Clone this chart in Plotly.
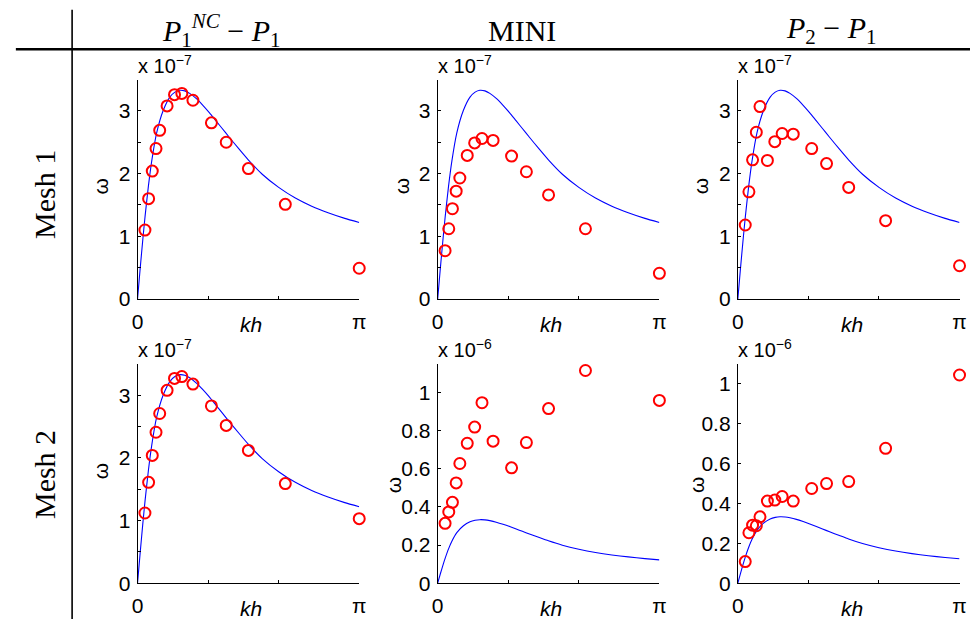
import math
import plotly.graph_objects as go

# Wavenumbers (kh) at which the discrete modes were computed
kh = [0.105, 0.157, 0.209, 0.262, 0.314, 0.419, 0.524, 0.628, 0.785,
      1.047, 1.257, 1.571, 2.094, 3.1415]

# Reference dispersion curve (omega)
exact_kh = [0, 0.037, 0.075, 0.108, 0.154, 0.201, 0.271, 0.365, 0.458,
            0.53, 0.598, 0.67, 0.739, 0.83, 0.926, 1.02, 1.113, 1.20, 1.30,
            1.44, 1.569, 1.767, 2.0, 2.236, 2.468, 2.70, 2.937, 3.1415]
exact_w = [0, 0.48e-7, 0.95e-7, 1.33e-7, 1.80e-7, 2.20e-7, 2.65e-7, 3.01e-7,
           3.22e-7, 3.30e-7, 3.33e-7, 3.32e-7, 3.28e-7, 3.20e-7, 3.09e-7,
           2.97e-7, 2.84e-7, 2.72e-7, 2.58e-7, 2.39e-7, 2.22e-7, 1.99e-7,
           1.78e-7, 1.61e-7, 1.48e-7, 1.376e-7, 1.286e-7, 1.221e-7]

# Discrete omega, mesh 1
mesh1_p1nc = [1.10e-7, 1.60e-7, 2.04e-7, 2.40e-7, 2.69e-7, 3.08e-7, 3.26e-7,
              3.28e-7, 3.17e-7, 2.81e-7, 2.50e-7, 2.08e-7, 1.51e-7, 0.49e-7]
mesh1_mini = [0.77e-7, 1.12e-7, 1.44e-7, 1.72e-7, 1.93e-7, 2.29e-7, 2.49e-7,
              2.56e-7, 2.53e-7, 2.28e-7, 2.03e-7, 1.66e-7, 1.12e-7, 0.41e-7]
mesh1_p2p1 = [1.18e-7, 1.71e-7, 2.22e-7, 2.66e-7, 3.07e-7, 2.21e-7, 2.51e-7,
              2.64e-7, 2.63e-7, 2.40e-7, 2.16e-7, 1.78e-7, 1.25e-7, 0.53e-7]

# Discrete omega, mesh 2
mesh2_p1nc = [1.12e-7, 1.61e-7, 2.04e-7, 2.41e-7, 2.71e-7, 3.08e-7, 3.27e-7,
              3.30e-7, 3.18e-7, 2.83e-7, 2.52e-7, 2.12e-7, 1.59e-7, 1.03e-7]
mesh2_mini = [0.314e-6, 0.374e-6, 0.424e-6, 0.526e-6, 0.628e-6, 0.734e-6,
              0.819e-6, 0.947e-6, 0.745e-6, 0.605e-6, 0.738e-6, 0.916e-6,
              1.116e-6, 0.959e-6]
mesh2_p2p1 = [0.108e-6, 0.253e-6, 0.291e-6, 0.288e-6, 0.333e-6, 0.412e-6,
              0.417e-6, 0.435e-6, 0.412e-6, 0.475e-6, 0.500e-6, 0.510e-6,
              0.677e-6, 1.045e-6]

col_titles = ["<i>P</i><sub>1</sub><sup><i>NC</i></sup> − <i>P</i><sub>1</sub>",
              "MINI",
              "<i>P</i><sub>2</sub> − <i>P</i><sub>1</sub>"]
row_titles = ["Mesh 1", "Mesh 2"]

x_tickvals = [0, 1, 2, math.pi]
x_ticktext = ["0", "", "", "π"]

W, H = 977, 630
col_left = [133.3, 437.5, 741.7]
col_width = 224.7
row_top = [81.0, 370.5]
row_bottom = [304.3, 593.5]

# per panel: data, exponent, y max (in scaled units), ticks
panels = [
    (0, 0, mesh1_p1nc, -7, 3.5, [0, 0.5, 1, 1.5, 2, 2.5, 3], ["0", "", "1", "", "2", "", "3"]),
    (0, 1, mesh1_mini, -7, 3.5, [0, 0.5, 1, 1.5, 2, 2.5, 3], ["0", "", "1", "", "2", "", "3"]),
    (0, 2, mesh1_p2p1, -7, 3.5, [0, 0.5, 1, 1.5, 2, 2.5, 3], ["0", "", "1", "", "2", "", "3"]),
    (1, 0, mesh2_p1nc, -7, 3.5, [0, 0.5, 1, 1.5, 2, 2.5, 3], ["0", "", "1", "", "2", "", "3"]),
    (1, 1, mesh2_mini, -6, 1.15, [0, 0.2, 0.4, 0.6, 0.8, 1.0], ["0", "0.2", "0.4", "0.6", "0.8", "1"]),
    (1, 2, mesh2_p2p1, -6, 1.10, [0, 0.2, 0.4, 0.6, 0.8, 1.0], ["0", "0.2", "0.4", "0.6", "0.8", "1"]),
]

omega_label_pos = {(0, 0): (96, 190), (0, 1): (401, 190), (0, 2): (704, 190),
                   (1, 0): (96, 480), (1, 1): (393, 494), (1, 2): (700, 494)}

tick_font = dict(family="Liberation Sans, Arial, sans-serif", size=21, color="black")
serif = "Liberation Serif, Times New Roman, serif"

fig = go.Figure()
layout = dict(width=W, height=H, margin=dict(l=0, r=0, t=0, b=0),
              paper_bgcolor="white", plot_bgcolor="white", showlegend=False)
annotations = []
shapes = []

for i, (r, c, data, ex, ymax, yt, ytt) in enumerate(panels, start=1):
    xa = "x" if i == 1 else f"x{i}"
    ya = "y" if i == 1 else f"y{i}"
    scale = 10.0 ** ex
    fig.add_trace(go.Scatter(x=exact_kh, y=[v / scale for v in exact_w],
                             mode="lines",
                             line=dict(color="#0000FF", width=1.1, shape="spline", smoothing=0.5),
                             xaxis=xa, yaxis=ya, cliponaxis=False))
    fig.add_trace(go.Scatter(x=kh, y=[v / scale for v in data], mode="markers",
                             marker=dict(symbol="circle-open", size=11, color="#FF0000",
                                         line=dict(width=2, color="#FF0000")),
                             xaxis=xa, yaxis=ya, cliponaxis=False))
    x0 = col_left[c] / W
    x1 = (col_left[c] + col_width) / W
    y0 = 1 - row_bottom[r] / H
    y1 = 1 - row_top[r] / H
    kx = "xaxis" if i == 1 else f"xaxis{i}"
    ky = "yaxis" if i == 1 else f"yaxis{i}"
    layout[kx] = dict(domain=[x0, x1], anchor=ya, range=[0, math.pi],
                      tickvals=x_tickvals, ticktext=x_ticktext, ticks="inside",
                      ticklen=3, tickcolor="black", showline=True, linecolor="black",
                      linewidth=1, showgrid=False, zeroline=False, tickfont=tick_font,
                      ticklabelstandoff=4)
    layout[ky] = dict(domain=[y0, y1], anchor=xa, range=[0, ymax],
                      tickvals=yt, ticktext=ytt, ticks="inside", ticklen=3,
                      tickcolor="black", showline=True, linecolor="black",
                      linewidth=1, showgrid=False, zeroline=False, tickfont=tick_font,
                      ticklabelstandoff=2)
    # exponent label above the axis
    annotations.append(dict(x=(col_left[c] - 2) / W, y=1 - (row_top[r] - 1) / H,
                            xref="paper", yref="paper", xanchor="left", yanchor="bottom",
                            text=f"x 10<sup>−{-ex}</sup>", showarrow=False,
                            font=dict(family=tick_font["family"], size=20, color="black")))
    # axis titles
    annotations.append(dict(x=(col_left[c] + col_width / 2 + 3) / W,
                            y=1 - 330 / H if r == 0 else 1 - 619 / H,
                            xref="paper", yref="paper", xanchor="center", yanchor="middle",
                            text="<i>kh</i>", showarrow=False,
                            font=dict(family=tick_font["family"], size=21, color="black")))
    ox, oy = omega_label_pos[(r, c)]
    annotations.append(dict(x=ox / W, y=1 - oy / H, xref="paper", yref="paper",
                            xanchor="center", yanchor="middle", text="ω", textangle=-90,
                            showarrow=False,
                            font=dict(family=tick_font["family"], size=21, color="black")))

# column headers
for cx, t in zip([218, 523, 837], col_titles):
    annotations.append(dict(x=cx / W, y=1 - 31 / H, xref="paper", yref="paper",
                            xanchor="center", yanchor="middle", text=t, showarrow=False,
                            font=dict(family=serif, size=30, color="black")))
# row headers
for cy, t in zip([198, 483], row_titles):
    annotations.append(dict(x=39 / W, y=1 - cy / H, xref="paper", yref="paper",
                            xanchor="center", yanchor="middle", text=t, textangle=-90,
                            showarrow=False, font=dict(family=serif, size=30, color="black")))

# table rules
shapes.append(dict(type="line", xref="paper", yref="paper", x0=10 / W, x1=1,
                   y0=1 - 50 / H, y1=1 - 50 / H, line=dict(color="black", width=2.5)))
shapes.append(dict(type="line", xref="paper", yref="paper", x0=67 / W, x1=67 / W,
                   y0=1 - 10 / H, y1=0, line=dict(color="black", width=1.6)))

layout["annotations"] = annotations
layout["shapes"] = shapes
fig.update_layout(**layout)
fig.write_html("out.html")
